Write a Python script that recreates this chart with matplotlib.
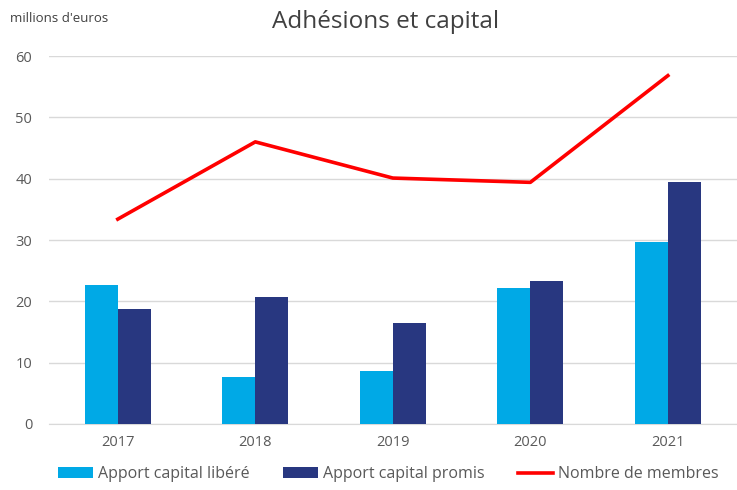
import numpy as np
import matplotlib.pyplot as plt

plt.rcParams['font.family'] = ['Open Sans', 'DejaVu Sans']

annees = ['2017', '2018', '2019', '2020', '2021']
apport_libere = [22.7, 7.6, 8.6, 22.2, 29.7]
apport_promis = [18.8, 20.7, 16.5, 23.3, 39.5]
nb_membres = [33.4, 46.0, 40.1, 39.4, 56.8]

fig = plt.figure(figsize=(7.37, 4.9), dpi=100)
ax = fig.add_axes([0.0665, 0.1347, 0.933, 0.751])

x = np.arange(len(annees))
w = 0.24
b1 = ax.bar(x - w / 2, apport_libere, w, color='#00A9E6', label='Apport capital libéré', zorder=3)
b2 = ax.bar(x + w / 2, apport_promis, w, color='#283780', label='Apport capital promis', zorder=3)
l1, = ax.plot(x, nb_membres, color='#FF0000', lw=2.6, label='Nombre de membres', zorder=4)

ax.set_xlim(-0.5, 4.5)
ax.set_ylim(0, 60)
ax.set_yticks(range(0, 61, 10))
ax.set_xticks(x)
ax.set_xticklabels(annees)
ax.grid(axis='y', color='#d9d9d9', lw=1, zorder=0)
for s in ['top', 'right', 'left']:
    ax.spines[s].set_visible(False)
ax.spines['bottom'].set_color('#d9d9d9')
ax.tick_params(length=0, labelsize=10.5, colors='#595959')
ax.tick_params(axis='y', pad=12)
ax.tick_params(axis='x', pad=8)

fig.text(0.523, 0.955, 'Adhésions et capital', ha='center', va='center',
         fontsize=17.5, color='#404040')
fig.text(0.013, 0.963, "millions d'euros", ha='left', va='center',
         fontsize=9.5, color='#404040')

fig.legend([b1, b2, l1], ['Apport capital libéré', 'Apport capital promis', 'Nombre de membres'],
           loc='lower center', bbox_to_anchor=(0.527, -0.014), ncol=3, frameon=False,
           fontsize=11.5, labelcolor='#595959', handlelength=2.2, handletextpad=0.3,
           columnspacing=2.1)

fig.savefig('out.png', dpi=100)
